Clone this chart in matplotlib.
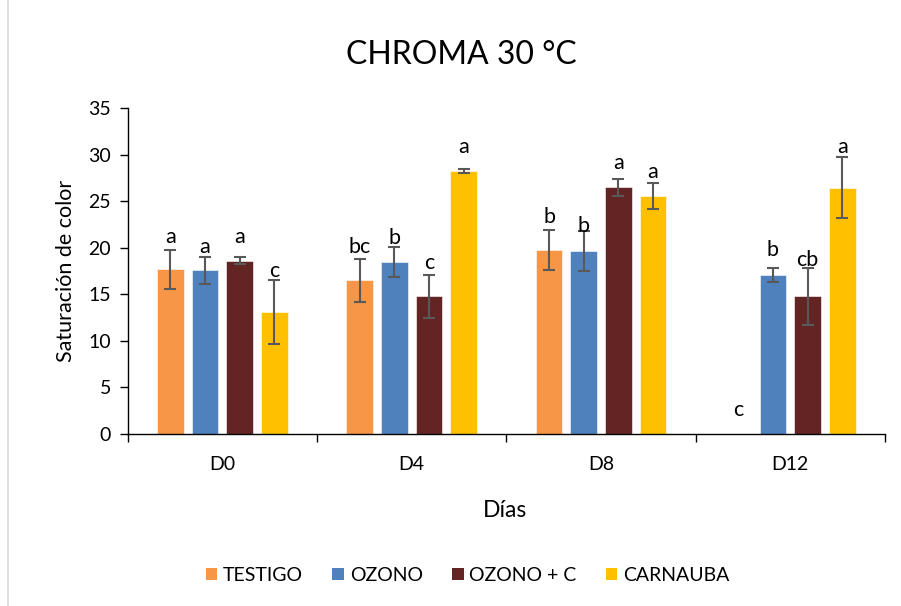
import matplotlib
matplotlib.use("Agg")
import matplotlib.pyplot as plt
import numpy as np
from matplotlib.lines import Line2D
from matplotlib.patches import Patch

plt.rcParams["font.family"] = ["Lato", "DejaVu Sans"]

days = ["D0", "D4", "D8", "D12"]
treatments = ["TESTIGO", "OZONO", "OZONO + C", "CARNAUBA"]
colors = ["#F79646", "#4F81BD", "#632523", "#FFC000"]

# mean chroma per treatment, one value per day
testigo = [17.7, 16.5, 19.75, 0.0]
ozono = [17.6, 18.5, 19.65, 17.1]
ozono_c = [18.6, 14.8, 26.5, 14.8]
carnauba = [13.1, 28.2, 25.55, 26.45]

# standard deviations
testigo_err = [2.1, 2.3, 2.1, 0.0]
ozono_err = [1.45, 1.6, 2.1, 0.75]
ozono_c_err = [0.4, 2.3, 0.9, 3.05]
carnauba_err = [3.4, 0.2, 1.4, 3.3]

# significance letters
testigo_sig = ["a", "bc", "b", "c"]
ozono_sig = ["a", "b", "b", "b"]
ozono_c_sig = ["a", "c", "a", "cb"]
carnauba_sig = ["c", "a", "a", "a"]

means = [testigo, ozono, ozono_c, carnauba]
errs = [testigo_err, ozono_err, ozono_c_err, carnauba_err]
sigs = [testigo_sig, ozono_sig, ozono_c_sig, carnauba_sig]

# how far (px) each letter sits above its error cap
lift = [[13, 12, 13, 24],
        [10, 9, 5, 18],
        [20, 12, 16, 8],
        [9, 22, 11, 10]]

fig = plt.figure(figsize=(9.01, 6.06), dpi=100)
ax = fig.add_axes([0.1417, 0.2838, 0.8405, 0.538])

x = np.arange(len(days))
pitch = 0.183
width = 0.14
for i, (vals, err, sig, col) in enumerate(zip(means, errs, sigs, colors)):
    pos = x + (i - 1.5) * pitch
    ax.bar(pos, vals, width=width, color=col, edgecolor="white", linewidth=0.4, zorder=2)
    for p, v, e in zip(pos, vals, err):
        if v > 0:
            ax.errorbar(p, v, yerr=e, fmt="none", ecolor="#595959",
                        elinewidth=1.5, capsize=4.3, capthick=1.5, zorder=3)
    for j, (p, v, e, s) in enumerate(zip(pos, vals, err, sig)):
        ax.annotate(s, (p, v + e), xytext=(0, lift[i][j] * 0.72),
                    textcoords="offset points", ha="center", va="center",
                    fontsize=15.5, color="black", zorder=4)

ax.set_xlim(-0.5, len(days) - 0.5)
ax.set_ylim(0, 35)
ax.set_yticks(range(0, 36, 5))
ax.tick_params(axis="y", labelsize=14, length=6, width=1, direction="out", pad=6)

ax.set_xticks(x)
ax.set_xticklabels(days, fontsize=14)
ax.tick_params(axis="x", which="major", length=0, pad=16)
ax.set_xticks(np.arange(len(days) + 1) - 0.5, minor=True)
ax.tick_params(axis="x", which="minor", length=6, width=1, direction="out")

for side in ("top", "right"):
    ax.spines[side].set_visible(False)
ax.spines["left"].set_linewidth(1)
ax.spines["bottom"].set_linewidth(1)

ax.set_ylabel("Saturación de color", fontsize=15.5, labelpad=9)
fig.text(0.561, 0.158, "Días", ha="center", va="center", fontsize=16.5)
fig.text(0.512, 0.909, "CHROMA 30 °C", ha="center", va="center", fontsize=23)

handles = [Patch(facecolor=c, edgecolor="none") for c in colors]
fig.legend(handles, treatments, loc="center", bbox_to_anchor=(0.519, 0.051),
           ncol=4, frameon=False, fontsize=14, handlelength=0.6, handleheight=0.6,
           handletextpad=0.3, columnspacing=1.5)

# thin grey chart frame edge on the left
fig.add_artist(Line2D([0.009, 0.009], [0, 1], transform=fig.transFigure,
                      color="#D9D9D9", linewidth=1.2))

fig.savefig("out.png", dpi=100)
